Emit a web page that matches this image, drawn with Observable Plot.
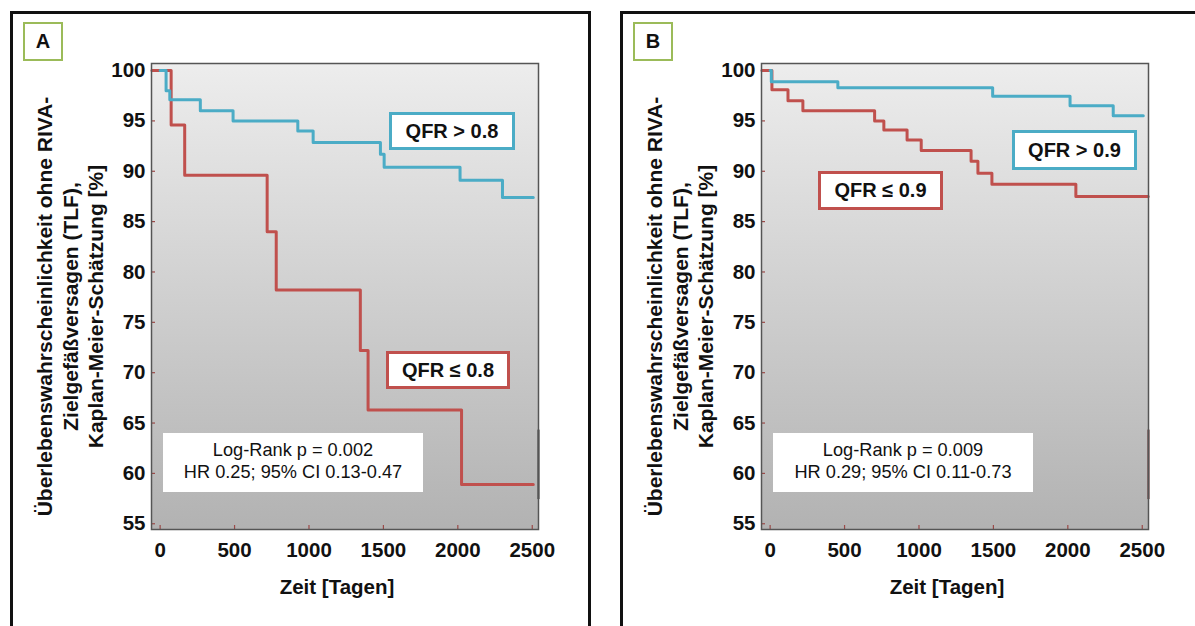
<!DOCTYPE html>
<html lang="de">
<head>
<meta charset="utf-8">
<script src="https://cdn.jsdelivr.net/npm/d3@7"></script>
<script src="https://cdn.jsdelivr.net/npm/@observablehq/plot@0.6"></script>
<style>
  html, body { margin: 0; padding: 0; background: #fff; }
  body { width: 1195px; height: 626px; position: relative; overflow: hidden;
         font-family: Arial, "Liberation Sans", sans-serif; color: #111; }
  .panel-frame { position: absolute; top: 11px; width: 575px; height: 700px;
                 border: 3px solid #111; box-sizing: content-box; }
  .panel { position: absolute; top: 0; width: 600px; height: 626px; }
  .panel svg { position: absolute; left: 0; top: 0; }
  .tag { position: absolute; left: 23px; top: 22px; width: 36px; height: 35px;
         border: 2.5px solid #9bbb59; background: #fff; font-weight: bold;
         font-size: 20px; display: flex; align-items: center; justify-content: center; }
  .group-label { position: absolute; background: #fff; border: 3px solid;
                 box-sizing: border-box; font-weight: bold; font-size: 20px;
                 display: flex; align-items: center; justify-content: center; }
  .stats { position: absolute; left: 163px; top: 433px; width: 260px; height: 59px;
           background: #fff; font-size: 18.2px; text-align: center; line-height: 21.7px;
           padding-top: 7px; box-sizing: border-box; }
</style>
</head>
<body>
<svg width="0" height="0" style="position:absolute">
  <defs>
    <linearGradient id="plotShade" x1="0" y1="0" x2="0" y2="1">
      <stop offset="0" stop-color="#ededed"/>
      <stop offset="1" stop-color="#b2b2b2"/>
    </linearGradient>
  </defs>
</svg>
<script>
// Axis ticks and titles shared by both panels
const xTicks = [0, 500, 1000, 1500, 2000, 2500];
const yTicks = [55, 60, 65, 70, 75, 80, 85, 90, 95, 100];
const xTitle = "Zeit [Tagen]";
const yTitle = ["Überlebenswahrscheinlichkeit ohne RIVA-", "Zielgefäßversagen (TLF),", "Kaplan-Meier-Schätzung [%]"];

// Panel A: Kaplan-Meier steps (days, survival %)
const aHighTime = [0, 40, 65, 270, 490, 925, 1028, 1480, 1505, 2015, 2300, 2507];
const aHighSurv = [100, 98.0, 97.1, 96.0, 95.0, 94.0, 92.85, 91.7, 90.4, 89.1, 87.4, 87.4];
const aLowTime = [-55, 74, 165, 719, 780, 1345, 1397, 2025, 2507];
const aLowSurv = [100, 94.6, 89.6, 84.0, 78.2, 72.2, 66.3, 58.9, 58.9];
const aHighLabel = "QFR > 0.8";
const aLowLabel = "QFR ≤ 0.8";
const aStats = ["Log-Rank p = 0.002", "HR 0.25; 95% CI 0.13-0.47"];
const aEdgeRange = [57.4, 64.3];

// Panel B: Kaplan-Meier steps (days, survival %)
const bHighTime = [0, 8, 455, 1495, 2015, 2305, 2507];
const bHighSurv = [100, 98.9, 98.3, 97.45, 96.5, 95.5, 95.5];
const bLowTime = [-55, 12, 120, 220, 702, 764, 920, 1015, 1350, 1396, 1490, 2054, 2540];
const bLowSurv = [100, 98.1, 97.0, 96.0, 95.0, 94.1, 93.1, 92.05, 91.0, 89.8, 88.7, 87.5, 87.5];
const bHighLabel = "QFR > 0.9";
const bLowLabel = "QFR ≤ 0.9";
const bStats = ["Log-Rank p = 0.009", "HR 0.29; 95% CI 0.11-0.73"];
const bEdgeRange = [57.4, 64.3];

const xDomain = [-58, 2542];
const yDomain = [54.43, 100.7];
const highColor = "#4bacc6";
const lowColor = "#c0504d";
const tickColor = "#9b4a48";

const W = 600, H = 626;
const M = {left: 151, right: 62, top: 63, bottom: 97};
const frameW = W - M.left - M.right;
const frameH = H - M.top - M.bottom;

function steps(times, surv) {
  return times.map((t, i) => ({t, s: surv[i]}));
}

function drawPanel(p) {
  return Plot.plot({
    width: W, height: H,
    marginLeft: M.left, marginRight: M.right, marginTop: M.top, marginBottom: M.bottom,
    style: {fontFamily: "Arial, 'Liberation Sans', sans-serif", color: "#111", background: "transparent"},
    x: {domain: xDomain, ticks: xTicks, label: null},
    y: {domain: yDomain, ticks: yTicks, label: null},
    marks: [
      Plot.frame({fill: "url(#plotShade)"}),
      Plot.tickY(yTicks, {y: d => d, stroke: tickColor, strokeWidth: 1.2, insetRight: frameW - 4}),
      Plot.tickX(xTicks, {x: d => d, stroke: tickColor, strokeWidth: 1.2, insetTop: frameH - 4}),
      Plot.line(steps(p.lowTime, p.lowSurv), {x: "t", y: "s", curve: "step-after", stroke: lowColor, strokeWidth: 3}),
      Plot.line(steps(p.highTime, p.highSurv), {x: "t", y: "s", curve: "step-after", stroke: highColor, strokeWidth: 3}),
      Plot.ruleX([p.edge], {x: () => xDomain[1], y1: d => d[0], y2: d => d[1], stroke: p.edgeColor, strokeWidth: 2}),
      Plot.frame({stroke: "#555", strokeWidth: 1.5}),
      Plot.axisY({ticks: yTicks, tickFormat: d3.format("d"), tickSize: 0, tickPadding: 6, fontSize: 20.5, fontWeight: "bold", fill: "#111", label: null}),
      Plot.axisX({ticks: xTicks, tickFormat: d3.format("d"), tickSize: 0, tickPadding: 13, fontSize: 20.5, fontWeight: "bold", fill: "#111", label: null}),
      Plot.text([yTitle.join("\n")], {text: d => d, frameAnchor: "left", rotate: -90, dx: -82, dy: 10,
        textAnchor: "middle", lineAnchor: "middle", lineHeight: 1.22, fontSize: 21, fontWeight: "bold", fill: "#111"}),
      Plot.text([xTitle], {text: d => d, frameAnchor: "bottom", dx: -8, dy: 58,
        lineAnchor: "middle", fontSize: 20.5, fontWeight: "bold", fill: "#111"})
    ]
  });
}

const panelDefs = [
  {tag: "A", offset: 0, highTime: aHighTime, highSurv: aHighSurv, lowTime: aLowTime, lowSurv: aLowSurv,
   highLabel: aHighLabel, lowLabel: aLowLabel, stats: aStats, edge: aEdgeRange, edgeColor: "#333",
   highBox: {left: 389, top: 112, width: 126, height: 38},
   lowBox: {left: 386, top: 351, width: 124, height: 38}},
  {tag: "B", offset: 610, highTime: bHighTime, highSurv: bHighSurv, lowTime: bLowTime, lowSurv: bLowSurv,
   highLabel: bHighLabel, lowLabel: bLowLabel, stats: bStats, edge: bEdgeRange, edgeColor: "#5a2626",
   highBox: {left: 402, top: 130, width: 125, height: 40},
   lowBox: {left: 208, top: 171, width: 125, height: 39}}
];

for (const p of panelDefs) {
  const frame = document.createElement("div");
  frame.className = "panel-frame";
  frame.style.left = (10 + p.offset) + "px";
  document.body.appendChild(frame);

  const panel = document.createElement("div");
  panel.className = "panel";
  panel.style.left = p.offset + "px";
  panel.appendChild(drawPanel(p));

  const tag = document.createElement("div");
  tag.className = "tag";
  tag.textContent = p.tag;
  panel.appendChild(tag);

  for (const [box, label, color] of [[p.highBox, p.highLabel, highColor], [p.lowBox, p.lowLabel, lowColor]]) {
    const el = document.createElement("div");
    el.className = "group-label";
    Object.assign(el.style, {left: box.left + "px", top: box.top + "px", width: box.width + "px",
      height: box.height + "px", borderColor: color});
    el.textContent = label;
    panel.appendChild(el);
  }

  const stats = document.createElement("div");
  stats.className = "stats";
  stats.innerHTML = p.stats.map(s => `<div>${s}</div>`).join("");
  panel.appendChild(stats);

  document.body.appendChild(panel);
}
</script>
</body>
</html>
